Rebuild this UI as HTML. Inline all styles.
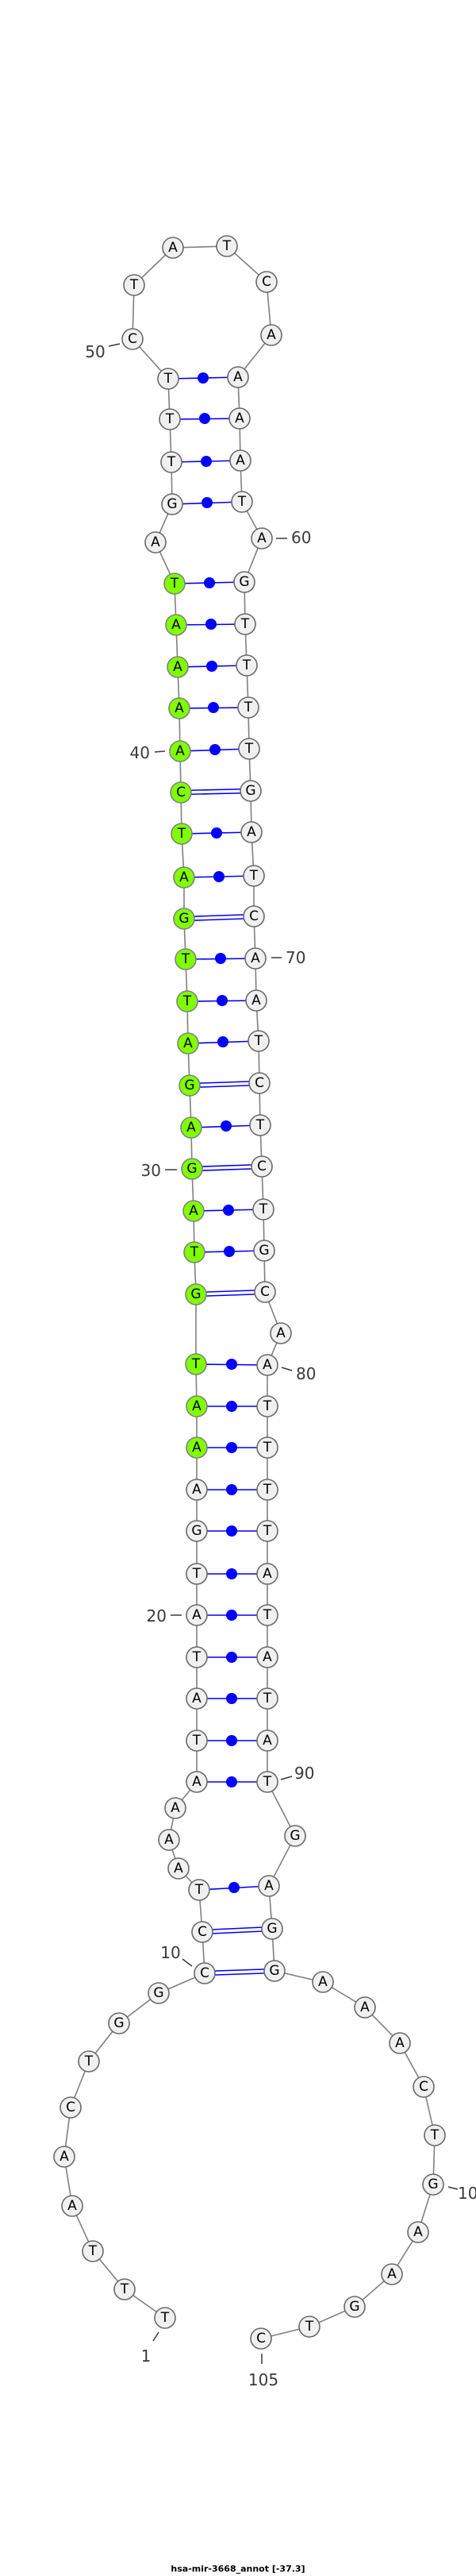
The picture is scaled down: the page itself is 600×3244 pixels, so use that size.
<!DOCTYPE html>
<html><head><meta charset="utf-8"><style>
html,body{margin:0;padding:0;background:#fff}
svg{display:block}
.b{stroke:#808080;stroke-width:1.6;fill:none}
.p{stroke:#0000ff;stroke-width:1.6;fill:none}
.d{fill:#0000ff}
.n circle{fill:#f0f0f0;stroke:#6a6a6a;stroke-width:1.6}
.n circle.g{fill:#7fff00;stroke:#808080}
.n text{font-family:"DejaVu Sans","Liberation Sans",sans-serif;font-size:17px;fill:#000;text-anchor:middle;dominant-baseline:central}
.l text{font-family:"DejaVu Sans","Liberation Sans",sans-serif;font-size:20px;fill:#3a3a3a;dominant-baseline:central}
.l line{stroke:#3a3a3a;stroke-width:1.5}
</style></head><body>
<svg width="600" height="3244" viewBox="0 0 600 3244" xmlns="http://www.w3.org/2000/svg">
<polyline class="b" points="208,2919 157,2883 117,2835 91,2778 81,2716 89,2654 112,2596 150,2548 200,2510 258,2485 255,2433 251,2380 225,2353 213,2317 221,2277 248,2244 248,2192 248,2139 248,2087 248,2034 248,1982 248,1928 248,1876 248,1823 248,1771 247,1718 247,1630 245,1577 244,1525 242,1472 241,1420 239,1367 237,1314 236,1261 234,1208 232,1157 232,1105 229,1050 228,998 227,946 226,892 224,840 222,787 220,735 196,683 217,635 216,582 214,528 212,477 167,427 169,359 218,312 286,310 336,355 342,422 300,475 302,527 303,580 305,632 330,678 308,733 309,786 311,838 313,891 314,943 316,996 317,1048 320,1103 320,1154 322,1207 323,1260 326,1311 327,1364 328,1417 330,1469 332,1523 333,1575 334,1627 354,1679 337,1719 337,1771 337,1823 337,1876 337,1928 337,1982 337,2034 337,2087 337,2139 337,2192 337,2244 372,2312 339,2375 343,2429 346,2482 407,2496 460,2528 504,2573 534,2628 548,2689 546,2751 527,2811 494,2864 447,2905 390,2930 329,2945"/>
<g class="p">
<line x1="212" y1="477" x2="300" y2="475"/><line x1="214" y1="528" x2="302" y2="527"/><line x1="216" y1="582" x2="303" y2="580"/><line x1="217" y1="635" x2="305" y2="632"/>
<line x1="220" y1="735" x2="308" y2="733"/><line x1="222" y1="787" x2="309" y2="786"/><line x1="224" y1="840" x2="311" y2="838"/><line x1="226" y1="892" x2="313" y2="891"/><line x1="227" y1="946" x2="314" y2="943"/>
<line x1="229" y1="1050" x2="317" y2="1048"/><line x1="232" y1="1105" x2="320" y2="1103"/><line x1="234" y1="1208" x2="322" y2="1207"/><line x1="236" y1="1261" x2="323" y2="1260"/><line x1="237" y1="1314" x2="326" y2="1311"/><line x1="241" y1="1420" x2="328" y2="1417"/><line x1="244" y1="1525" x2="332" y2="1523"/><line x1="245" y1="1577" x2="333" y2="1575"/>
<line x1="247" y1="1718" x2="337" y2="1719"/><line x1="248" y1="1771" x2="337" y2="1771"/><line x1="248" y1="1823" x2="337" y2="1823"/><line x1="248" y1="1876" x2="337" y2="1876"/><line x1="248" y1="1928" x2="337" y2="1928"/><line x1="248" y1="1982" x2="337" y2="1982"/><line x1="248" y1="2034" x2="337" y2="2034"/><line x1="248" y1="2087" x2="337" y2="2087"/><line x1="248" y1="2139" x2="337" y2="2139"/><line x1="248" y1="2192" x2="337" y2="2192"/><line x1="248" y1="2244" x2="337" y2="2244"/><line x1="251" y1="2380" x2="339" y2="2375"/>
<!-- doubles -->
<line x1="228" y1="995.5" x2="316" y2="993.5"/><line x1="228" y1="1000.5" x2="316" y2="998.5"/>
<line x1="232" y1="1154.5" x2="320" y2="1151.5"/><line x1="232" y1="1159.5" x2="320" y2="1156.5"/>
<line x1="239" y1="1364.5" x2="327" y2="1361.5"/><line x1="239" y1="1369.5" x2="327" y2="1366.5"/>
<line x1="242" y1="1469.5" x2="330" y2="1466.5"/><line x1="242" y1="1474.5" x2="330" y2="1471.5"/>
<line x1="247" y1="1627.5" x2="334" y2="1624.5"/><line x1="247" y1="1632.5" x2="334" y2="1629.5"/>
<line x1="255" y1="2430.5" x2="343" y2="2426.5"/><line x1="255" y1="2435.5" x2="343" y2="2431.5"/>
<line x1="258" y1="2482.5" x2="346" y2="2479.5"/><line x1="258" y1="2487.5" x2="346" y2="2484.5"/>
</g>
<g class="d">
<circle cx="256" cy="476" r="7"/><circle cx="258" cy="527" r="7"/><circle cx="260" cy="581" r="7"/><circle cx="261" cy="633" r="7"/>
<circle cx="264" cy="734" r="7"/><circle cx="266" cy="786" r="7"/><circle cx="267" cy="839" r="7"/><circle cx="269" cy="891" r="7"/><circle cx="271" cy="944" r="7"/>
<circle cx="273" cy="1049" r="7"/><circle cx="276" cy="1104" r="7"/><circle cx="278" cy="1207" r="7"/><circle cx="280" cy="1260" r="7"/><circle cx="281" cy="1312" r="7"/><circle cx="285" cy="1418" r="7"/><circle cx="288" cy="1524" r="7"/><circle cx="289" cy="1576" r="7"/>
<circle cx="292" cy="1718" r="7"/><circle cx="292" cy="1771" r="7"/><circle cx="292" cy="1823" r="7"/><circle cx="292" cy="1876" r="7"/><circle cx="292" cy="1928" r="7"/><circle cx="292" cy="1982" r="7"/><circle cx="292" cy="2034" r="7"/><circle cx="292" cy="2087" r="7"/><circle cx="292" cy="2139" r="7"/><circle cx="292" cy="2192" r="7"/><circle cx="292" cy="2244" r="7"/><circle cx="295" cy="2377" r="7"/>
</g>
<g class="n">
<circle cx="208" cy="2919" r="13"/><text x="208" y="2919">T</text>
<circle cx="157" cy="2883" r="13"/><text x="157" y="2883">T</text>
<circle cx="117" cy="2835" r="13"/><text x="117" y="2835">T</text>
<circle cx="91" cy="2778" r="13"/><text x="91" y="2778">A</text>
<circle cx="81" cy="2716" r="13"/><text x="81" y="2716">A</text>
<circle cx="89" cy="2654" r="13"/><text x="89" y="2654">C</text>
<circle cx="112" cy="2596" r="13"/><text x="112" y="2596">T</text>
<circle cx="150" cy="2548" r="13"/><text x="150" y="2548">G</text>
<circle cx="200" cy="2510" r="13"/><text x="200" y="2510">G</text>
<circle cx="258" cy="2485" r="13"/><text x="258" y="2485">C</text>
<circle cx="255" cy="2433" r="13"/><text x="255" y="2433">C</text>
<circle cx="251" cy="2380" r="13"/><text x="251" y="2380">T</text>
<circle cx="225" cy="2353" r="13"/><text x="225" y="2353">A</text>
<circle cx="213" cy="2317" r="13"/><text x="213" y="2317">A</text>
<circle cx="221" cy="2277" r="13"/><text x="221" y="2277">A</text>
<circle cx="248" cy="2244" r="13"/><text x="248" y="2244">A</text>
<circle cx="248" cy="2192" r="13"/><text x="248" y="2192">T</text>
<circle cx="248" cy="2139" r="13"/><text x="248" y="2139">A</text>
<circle cx="248" cy="2087" r="13"/><text x="248" y="2087">T</text>
<circle cx="248" cy="2034" r="13"/><text x="248" y="2034">A</text>
<circle cx="248" cy="1982" r="13"/><text x="248" y="1982">T</text>
<circle cx="248" cy="1928" r="13"/><text x="248" y="1928">G</text>
<circle cx="248" cy="1876" r="13"/><text x="248" y="1876">A</text>
<circle class="g" cx="248" cy="1823" r="13"/><text x="248" y="1823">A</text>
<circle class="g" cx="248" cy="1771" r="13"/><text x="248" y="1771">A</text>
<circle class="g" cx="247" cy="1718" r="13"/><text x="247" y="1718">T</text>
<circle class="g" cx="247" cy="1630" r="13"/><text x="247" y="1630">G</text>
<circle class="g" cx="245" cy="1577" r="13"/><text x="245" y="1577">T</text>
<circle class="g" cx="244" cy="1525" r="13"/><text x="244" y="1525">A</text>
<circle class="g" cx="242" cy="1472" r="13"/><text x="242" y="1472">G</text>
<circle class="g" cx="241" cy="1420" r="13"/><text x="241" y="1420">A</text>
<circle class="g" cx="239" cy="1367" r="13"/><text x="239" y="1367">G</text>
<circle class="g" cx="237" cy="1314" r="13"/><text x="237" y="1314">A</text>
<circle class="g" cx="236" cy="1261" r="13"/><text x="236" y="1261">T</text>
<circle class="g" cx="234" cy="1208" r="13"/><text x="234" y="1208">T</text>
<circle class="g" cx="232" cy="1157" r="13"/><text x="232" y="1157">G</text>
<circle class="g" cx="232" cy="1105" r="13"/><text x="232" y="1105">A</text>
<circle class="g" cx="229" cy="1050" r="13"/><text x="229" y="1050">T</text>
<circle class="g" cx="228" cy="998" r="13"/><text x="228" y="998">C</text>
<circle class="g" cx="227" cy="946" r="13"/><text x="227" y="946">A</text>
<circle class="g" cx="226" cy="892" r="13"/><text x="226" y="892">A</text>
<circle class="g" cx="224" cy="840" r="13"/><text x="224" y="840">A</text>
<circle class="g" cx="222" cy="787" r="13"/><text x="222" y="787">A</text>
<circle class="g" cx="220" cy="735" r="13"/><text x="220" y="735">T</text>
<circle cx="196" cy="683" r="13"/><text x="196" y="683">A</text>
<circle cx="217" cy="635" r="13"/><text x="217" y="635">G</text>
<circle cx="216" cy="582" r="13"/><text x="216" y="582">T</text>
<circle cx="214" cy="528" r="13"/><text x="214" y="528">T</text>
<circle cx="212" cy="477" r="13"/><text x="212" y="477">T</text>
<circle cx="167" cy="427" r="13"/><text x="167" y="427">C</text>
<circle cx="169" cy="359" r="13"/><text x="169" y="359">T</text>
<circle cx="218" cy="312" r="13"/><text x="218" y="312">A</text>
<circle cx="286" cy="310" r="13"/><text x="286" y="310">T</text>
<circle cx="336" cy="355" r="13"/><text x="336" y="355">C</text>
<circle cx="342" cy="422" r="13"/><text x="342" y="422">A</text>
<circle cx="300" cy="475" r="13"/><text x="300" y="475">A</text>
<circle cx="302" cy="527" r="13"/><text x="302" y="527">A</text>
<circle cx="303" cy="580" r="13"/><text x="303" y="580">A</text>
<circle cx="305" cy="632" r="13"/><text x="305" y="632">T</text>
<circle cx="330" cy="678" r="13"/><text x="330" y="678">A</text>
<circle cx="308" cy="733" r="13"/><text x="308" y="733">G</text>
<circle cx="309" cy="786" r="13"/><text x="309" y="786">T</text>
<circle cx="311" cy="838" r="13"/><text x="311" y="838">T</text>
<circle cx="313" cy="891" r="13"/><text x="313" y="891">T</text>
<circle cx="314" cy="943" r="13"/><text x="314" y="943">T</text>
<circle cx="316" cy="996" r="13"/><text x="316" y="996">G</text>
<circle cx="317" cy="1048" r="13"/><text x="317" y="1048">A</text>
<circle cx="320" cy="1103" r="13"/><text x="320" y="1103">T</text>
<circle cx="320" cy="1154" r="13"/><text x="320" y="1154">C</text>
<circle cx="322" cy="1207" r="13"/><text x="322" y="1207">A</text>
<circle cx="323" cy="1260" r="13"/><text x="323" y="1260">A</text>
<circle cx="326" cy="1311" r="13"/><text x="326" y="1311">T</text>
<circle cx="327" cy="1364" r="13"/><text x="327" y="1364">C</text>
<circle cx="328" cy="1417" r="13"/><text x="328" y="1417">T</text>
<circle cx="330" cy="1469" r="13"/><text x="330" y="1469">C</text>
<circle cx="332" cy="1523" r="13"/><text x="332" y="1523">T</text>
<circle cx="333" cy="1575" r="13"/><text x="333" y="1575">G</text>
<circle cx="334" cy="1627" r="13"/><text x="334" y="1627">C</text>
<circle cx="354" cy="1679" r="13"/><text x="354" y="1679">A</text>
<circle cx="337" cy="1719" r="13"/><text x="337" y="1719">A</text>
<circle cx="337" cy="1771" r="13"/><text x="337" y="1771">T</text>
<circle cx="337" cy="1823" r="13"/><text x="337" y="1823">T</text>
<circle cx="337" cy="1876" r="13"/><text x="337" y="1876">T</text>
<circle cx="337" cy="1928" r="13"/><text x="337" y="1928">T</text>
<circle cx="337" cy="1982" r="13"/><text x="337" y="1982">A</text>
<circle cx="337" cy="2034" r="13"/><text x="337" y="2034">T</text>
<circle cx="337" cy="2087" r="13"/><text x="337" y="2087">A</text>
<circle cx="337" cy="2139" r="13"/><text x="337" y="2139">T</text>
<circle cx="337" cy="2192" r="13"/><text x="337" y="2192">A</text>
<circle cx="337" cy="2244" r="13"/><text x="337" y="2244">T</text>
<circle cx="372" cy="2312" r="13"/><text x="372" y="2312">G</text>
<circle cx="339" cy="2375" r="13"/><text x="339" y="2375">A</text>
<circle cx="343" cy="2429" r="13"/><text x="343" y="2429">G</text>
<circle cx="346" cy="2482" r="13"/><text x="346" y="2482">G</text>
<circle cx="407" cy="2496" r="13"/><text x="407" y="2496">A</text>
<circle cx="460" cy="2528" r="13"/><text x="460" y="2528">A</text>
<circle cx="504" cy="2573" r="13"/><text x="504" y="2573">A</text>
<circle cx="534" cy="2628" r="13"/><text x="534" y="2628">C</text>
<circle cx="548" cy="2689" r="13"/><text x="548" y="2689">T</text>
<circle cx="546" cy="2751" r="13"/><text x="546" y="2751">G</text>
<circle cx="527" cy="2811" r="13"/><text x="527" y="2811">A</text>
<circle cx="494" cy="2864" r="13"/><text x="494" y="2864">A</text>
<circle cx="447" cy="2905" r="13"/><text x="447" y="2905">G</text>
<circle cx="390" cy="2930" r="13"/><text x="390" y="2930">T</text>
<circle cx="329" cy="2945" r="13"/><text x="329" y="2945">C</text>
</g>
<g class="l">
<line x1="137" y1="436" x2="151" y2="433"/><text x="120" y="443" text-anchor="middle">50</text>
<line x1="348" y1="678" x2="362" y2="678"/><text x="367" y="677">60</text>
<line x1="195" y1="947" x2="208" y2="946"/><text x="189" y="948" text-anchor="end">40</text>
<line x1="342" y1="1206" x2="355" y2="1206"/><text x="360" y="1206">70</text>
<line x1="208" y1="1473" x2="223" y2="1473"/><text x="203" y="1474" text-anchor="end">30</text>
<line x1="355" y1="1722" x2="368" y2="1726"/><text x="373" y="1730">80</text>
<line x1="215" y1="2034" x2="229" y2="2034"/><text x="210" y="2035" text-anchor="end">20</text>
<line x1="354" y1="2241" x2="368" y2="2237"/><text x="371" y="2233">90</text>
<line x1="230" y1="2467" x2="242" y2="2476"/><text x="215" y="2459" text-anchor="middle">10</text>
<line x1="565" y1="2754" x2="577" y2="2757"/><text x="577" y="2762">100</text>
<line x1="200" y1="2937" x2="193" y2="2948"/><text x="184" y="2967" text-anchor="middle">1</text>
<line x1="330" y1="2964" x2="330" y2="2977"/><text x="332" y="2997" text-anchor="middle">105</text>
</g>
<text x="300" y="3235" text-anchor="middle" dominant-baseline="central" font-family="DejaVu Sans, Liberation Sans, sans-serif" font-weight="bold" font-size="11">hsa-mir-3668_annot [-37.3]</text>
</svg>
</body></html>
